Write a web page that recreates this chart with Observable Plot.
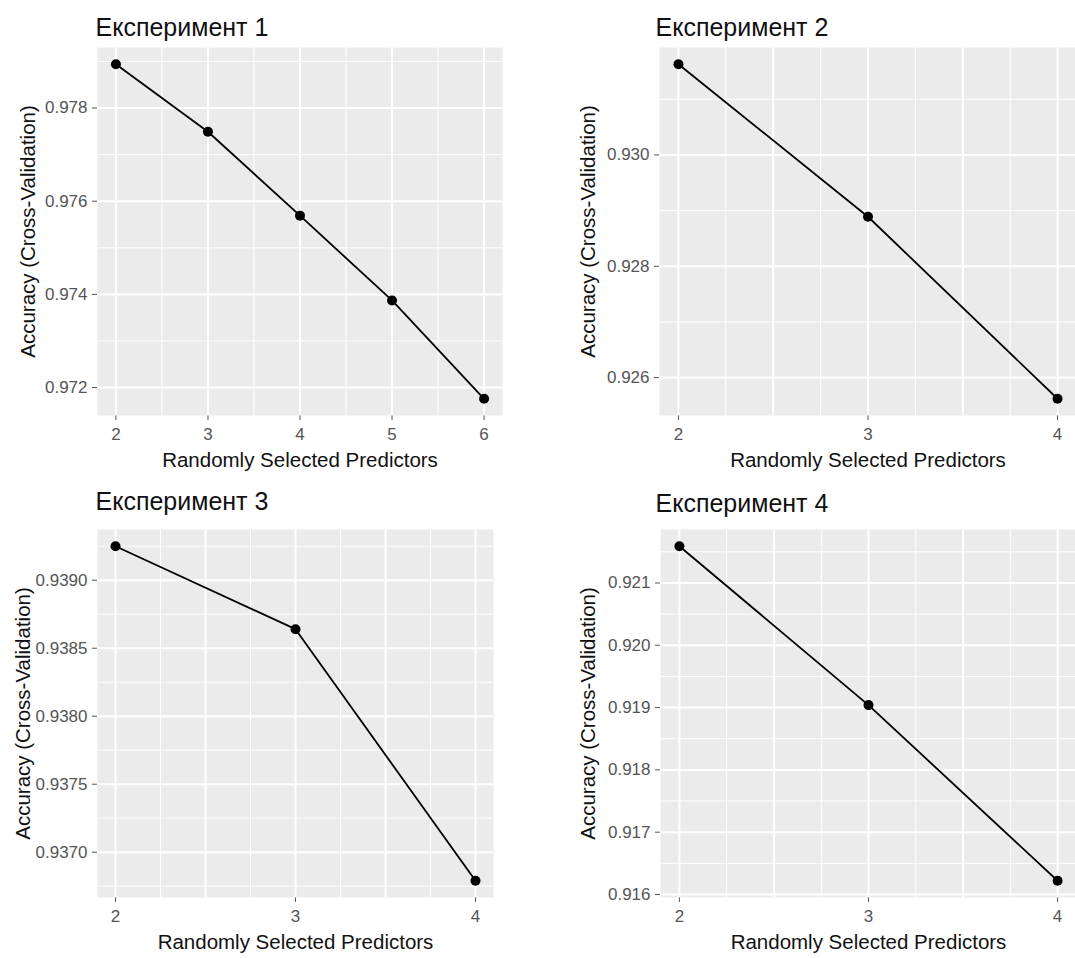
<!DOCTYPE html>
<html>
<head>
<meta charset="utf-8">
<script src="https://cdn.jsdelivr.net/npm/d3@7"></script>
<script src="https://cdn.jsdelivr.net/npm/@observablehq/plot@0.6"></script>
<style>
  html, body { margin: 0; padding: 0; background: #fff; overflow: hidden; }
  #wrap { position: relative; width: 1075px; height: 958px; overflow: hidden; background: #fff; }
  .panel { position: absolute; }
</style>
</head>
<body>
<div id="wrap"></div>
<script>
// ---- Data ----
const titles = ["Експеримент 1", "Експеримент 2", "Експеримент 3", "Експеримент 4"];
const xTitle = "Randomly Selected Predictors";
const yTitle = "Accuracy (Cross-Validation)";

const predictors1 = [2, 3, 4, 5, 6];
const accuracy1 = [0.97894, 0.97749, 0.97569, 0.97387, 0.97176];
const predictors2 = [2, 3, 4];
const accuracy2 = [0.93163, 0.92889, 0.92562];
const predictors3 = [2, 3, 4];
const accuracy3 = [0.93925, 0.93864, 0.93679];
const predictors4 = [2, 3, 4];
const accuracy4 = [0.92159, 0.91904, 0.91622];

// tick labels / breaks
const xTicks1 = [2, 3, 4, 5, 6];
const xMajor1 = [2, 3, 4, 5, 6];
const xMinor1 = [2.5, 3.5, 4.5, 5.5];
const xTicksSmall = [2, 3, 4];
const xMajorSmall = [2, 2.5, 3, 3.5, 4];
const xMinorSmall = [2.25, 2.75, 3.25, 3.75];

const yTicks1 = [0.972, 0.974, 0.976, 0.978];
const yMinor1 = [0.973, 0.975, 0.977, 0.979];
const yTicks2 = [0.926, 0.928, 0.930];
const yMinor2 = [0.927, 0.929, 0.931];
const yTicks3 = [0.9370, 0.9375, 0.9380, 0.9385, 0.9390];
const yMinor3 = [0.93675, 0.93725, 0.93775, 0.93825, 0.93875, 0.93925];
const yTicks4 = [0.916, 0.917, 0.918, 0.919, 0.920, 0.921];
const yMinor4 = [0.9165, 0.9175, 0.9185, 0.9195, 0.9205, 0.9215];

// ---- Layout ----
const panels = [
  {title: titles[0], xs: predictors1, ys: accuracy1, xTicks: xTicks1, xMajor: xMajor1, xMinor: xMinor1,
   yTicks: yTicks1, yMinor: yMinor1, fmt: ".3f",
   left: 0, top: 0, width: 540, height: 480, mL: 97, mR: 38, mT: 47, mB: 65,
   titleDx: -2, titleDy: -12, yTitleDx: -63},
  {title: titles[1], xs: predictors2, ys: accuracy2, xTicks: xTicksSmall, xMajor: xMajorSmall, xMinor: xMinorSmall,
   yTicks: yTicks2, yMinor: yMinor2, fmt: ".3f",
   left: 540, top: 0, width: 536, height: 480, mL: 119, mR: 0, mT: 47, mB: 65,
   titleDx: -4, titleDy: -12, yTitleDx: -65},
  {title: titles[2], xs: predictors3, ys: accuracy3, xTicks: xTicksSmall, xMajor: xMajorSmall, xMinor: xMinorSmall,
   yTicks: yTicks3, yMinor: yMinor3, fmt: ".4f",
   left: 0, top: 470, width: 540, height: 488, mL: 97, mR: 47, mT: 59, mB: 61,
   titleDx: -2, titleDy: -20, yTitleDx: -68},
  {title: titles[3], xs: predictors4, ys: accuracy4, xTicks: xTicksSmall, xMajor: xMajorSmall, xMinor: xMinorSmall,
   yTicks: yTicks4, yMinor: yMinor4, fmt: ".3f",
   left: 540, top: 470, width: 536, height: 488, mL: 120, mR: 0, mT: 59, mB: 61,
   titleDx: -5, titleDy: -18, yTitleDx: -66}
];

const wrap = document.getElementById("wrap");

for (const p of panels) {
  const table = p.xs.map((x, i) => ({x, acc: p.ys[i]}));
  const [xmin, xmax] = d3.extent(p.xs);
  const xr = xmax - xmin;
  const [ymin, ymax] = d3.extent(p.ys);
  const yr = ymax - ymin;

  const chart = Plot.plot({
    width: p.width,
    height: p.height,
    marginLeft: p.mL,
    marginRight: p.mR,
    marginTop: p.mT,
    marginBottom: p.mB,
    style: {
      fontFamily: "'Liberation Sans', Arial, Helvetica, sans-serif",
      fontSize: "17px",
      color: "#555555",
      background: "transparent",
      overflow: "visible"
    },
    x: {
      domain: [xmin - 0.05 * xr, xmax + 0.05 * xr],
      ticks: p.xTicks,
      tickFormat: d3.format("d"),
      tickSize: 5,
      tickPadding: 7,
      label: null
    },
    y: {
      domain: [ymin - 0.05 * yr, ymax + 0.05 * yr],
      ticks: p.yTicks,
      tickFormat: d3.format(p.fmt),
      tickSize: 5,
      tickPadding: 5,
      label: null
    },
    marks: [
      Plot.frame({fill: "#EBEBEB", stroke: null}),
      Plot.ruleY(p.yMinor, {stroke: "#ffffff", strokeWidth: 1}),
      Plot.ruleX(p.xMinor, {stroke: "#ffffff", strokeWidth: 1}),
      Plot.ruleY(p.yTicks, {stroke: "#ffffff", strokeWidth: 2}),
      Plot.ruleX(p.xMajor, {stroke: "#ffffff", strokeWidth: 2}),
      Plot.line(table, {x: "x", y: "acc", stroke: "#000", strokeWidth: 1.8}),
      Plot.dot(table, {x: "x", y: "acc", r: 5, fill: "#000", stroke: null}),
      Plot.text([p.title], {text: d => d, frameAnchor: "top-left", textAnchor: "start", lineAnchor: "bottom",
        dx: p.titleDx, dy: p.titleDy, fontSize: 25, fill: "#111"}),
      Plot.text([xTitle], {text: d => d, frameAnchor: "bottom", textAnchor: "middle", lineAnchor: "bottom",
        dy: 51, fontSize: 20.5, fill: "#111"}),
      Plot.text([yTitle], {text: d => d, frameAnchor: "left", textAnchor: "middle", lineAnchor: "bottom",
        rotate: -90, dx: p.yTitleDx, fontSize: 20.5, fill: "#111"})
    ]
  });
  chart.classList.add("panel");
  chart.style.left = p.left + "px";
  chart.style.top = p.top + "px";
  wrap.appendChild(chart);
}
</script>
</body>
</html>
